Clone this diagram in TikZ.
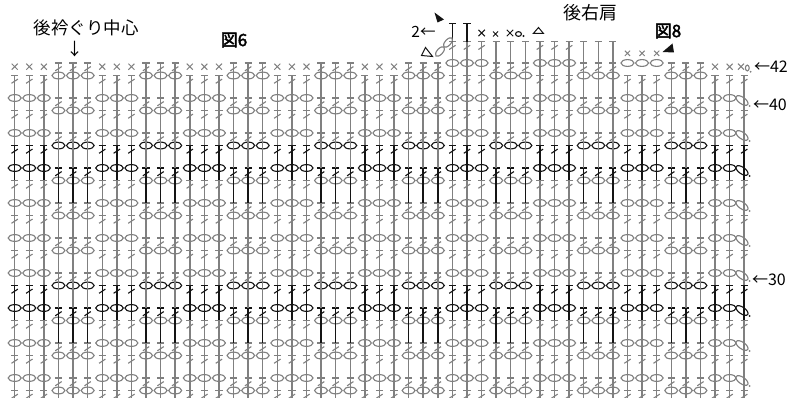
\documentclass[tikz,border=0pt]{standalone}
\usepackage{fontspec}
\newfontfamily\jp[AutoFakeBold=2.5]{Noto Sans CJK JP}
\definecolor{stg}{RGB}{128,128,128}
\definecolor{stk}{RGB}{20,20,20}
\tikzset{
  stemln/.style={line width=1.45pt},
  barln/.style={line width=1.2pt},
  slashln/.style={line width=1.1pt},
  chln/.style={line width=1.1pt},
  scln/.style={line width=1.0pt},
  lbl/.style={inner sep=0pt, outer sep=0pt, font=\jp\fontsize{16}{16}\selectfont},
}
\newcommand\dcst[4]{%
  \draw[#4,stemln] (#1,#2) -- (#1,#3);
  \draw[#4,barln] ({#1-3.6},#3) -- ({#1+3.6},#3);
  \draw[#4,slashln] ({#1-3.2},{#3+7.8}) -- ({#1+3.2},{#3+3.6});
}
\newcommand\hdcst[4]{%
  \draw[#4,stemln] (#1,#2) -- (#1,#3);
  \draw[#4,barln] ({#1-3.6},#3) -- ({#1+3.6},#3);
}
\newcommand\scst[4]{%
  \draw[#4,scln] ({#1-#3},{#2-#3}) -- ({#1+#3},{#2+#3}) ({#1-#3},{#2+#3}) -- ({#1+#3},{#2-#3});
}
\newcommand\chst[3]{%
  \draw[#3,chln] (#1,#2) ellipse [x radius=6.5, y radius=3.4];
}
\begin{document}
\begin{tikzpicture}[x=1pt,y=-1pt]
\useasboundingbox (0,0) rectangle (796,398);
\fill[white] (0,0) rectangle (796,398);
\begin{scope}
\clip (0,0) rectangle (796,398);
\foreach \R in {23,...,42} {
  \pgfmathsetmacro\Ltop{98+17.5*(40-\R)-5*mod(\R,2)}
  \pgfmathsetmacro\Lbot{98+17.5*(42-\R)-5*mod(\R,2)}
  \pgfmathtruncatemacro\blk{(mod(\R,8)==4) || (mod(\R,8)==5)}
  \ifnum\blk=1 \def\col{stk}\else\def\col{stg}\fi
  \pgfmathtruncatemacro\odd{mod(\R,2)}
  \foreach \c in {0,...,50} {
    \pgfmathtruncatemacro\grp{mod(floor(\c/3),2)}
    \pgfmathsetmacro\xx{14.7+14.59*\c}
    \pgfmathtruncatemacro\isdc{\odd==\grp ? 0 : 1}
    \ifnum\isdc=1
      \dcst{\xx}{\Lbot}{\Ltop}{\col}
    \else
      \ifnum\R=42
        \pgfmathtruncatemacro\sh{(\c>=30) && (\c<=44)}
        \ifnum\sh=1
          \chst{\xx}{\Ltop}{stg}
        \else
          \ifnum\c=50
            \scst{741}{66.7}{3}{stg}
            \draw[stg,chln] (747.3,68) ellipse [x radius=1.9, y radius=2.9];
            \fill[stg] (750.6,71.8) circle [radius=1];
          \else
            \scst{\xx}{66.7}{3}{stg}
          \fi
        \fi
      \else
        \ifnum\c=50
          \begin{scope}[shift={(742,{\Ltop+2.5})},rotate=-35]
            \draw[\col,chln] (0,0) ellipse [x radius=7, y radius=3.3];
          \end{scope}
          \fill[\col] (749.6,{\Ltop+8}) circle [radius=1];
        \else
          \chst{\xx}{\Ltop}{\col}
        \fi
      \fi
    \fi
  }
}
% shoulder row 43
\foreach \c in {30,31,32,36,37,38} {
  \pgfmathsetmacro\xx{14.7+14.59*\c}
  \dcst{\xx}{75.5}{41.7}{stg}
}
\foreach \c in {33,34,35,39,40,41} {
  \pgfmathsetmacro\xx{14.7+14.59*\c}
  \hdcst{\xx}{63}{41.7}{stg}
}
\foreach \c in {42,43,44} {
  \pgfmathsetmacro\xx{14.7+14.59*\c}
  \scst{\xx}{53.3}{2.6}{stg}
}
% shoulder row 44
\hdcst{452.4}{41.7}{23.3}{stk}
\hdcst{466.9}{41.7}{23.3}{stk}
\scst{481.7}{33}{3.2}{stk}
\scst{495.5}{34}{2.5}{stk}
\scst{510}{33}{3.2}{stk}
\draw[stk,chln] (518.5,34) ellipse [x radius=2.9, y radius=2.4];
\fill[stk] (523.5,36) circle [radius=1.1];
\draw[stk,line width=1pt,line join=miter] (533.3,33.5) -- (538.5,27.5) -- (543.5,33.5) -- cycle;
% turning chain
\begin{scope}[shift={(440,51.5)},rotate=48]
  \draw[stg,chln] (0,0) ellipse [x radius=6, y radius=2.9];
\end{scope}
\begin{scope}[shift={(448,42.5)},rotate=48]
  \draw[stg,chln] (0,0) ellipse [x radius=6, y radius=2.9];
\end{scope}
\draw[stk,line width=1pt] (421.5,55.5) -- (425.5,47.5) -- (432.5,56.5) -- cycle;
\fill[stk] (434.5,12.5) -- (444,19.5) -- (437.5,22.5) -- cycle;
\fill[stk] (662.5,52) -- (672.5,43.5) -- (674,52.5) -- cycle;
\end{scope}
% labels
\node[lbl, font=\jp\fontsize{17.5}{17.5}\selectfont] (neck) at (86.5,28) {後衿ぐり中心};
\node[lbl, font=\jp\fontsize{17}{17}\selectfont] (down) at (74.5,49) {↓};
\node[lbl, font=\jp\bfseries\fontsize{17}{17}\selectfont] (fig6) at (234,40) {図6};
\node[lbl, font=\jp\fontsize{18}{18}\selectfont] (shoulder) at (590,13) {後右肩};
\node[lbl, font=\jp\bfseries\fontsize{17}{17}\selectfont] (fig8) at (668,31) {図8};
\node[lbl, font=\jp\fontsize{15.5}{15.5}\selectfont, anchor=east] (two) at (435.5,32) {2←};
\node[lbl, anchor=west] (r42) at (754,67) {←42};
\node[lbl, anchor=west] (r40) at (753,105) {←40};
\node[lbl, anchor=west] (r30) at (752,280) {←30};
\end{tikzpicture}
\end{document}
